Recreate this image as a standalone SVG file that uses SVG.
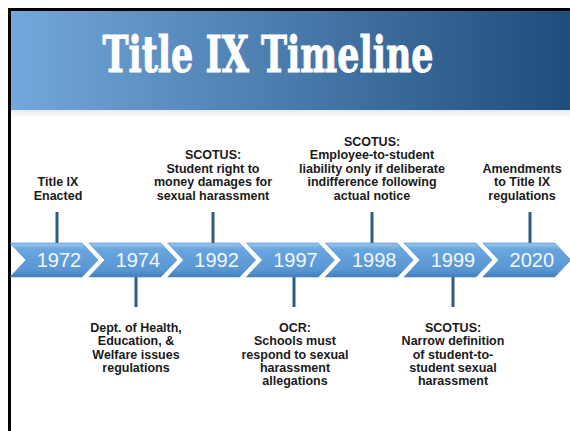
<svg xmlns="http://www.w3.org/2000/svg" width="570" height="431" viewBox="0 0 570 431">
  <defs>
    <linearGradient id="hdr" x1="0" y1="0" x2="1" y2="0">
      <stop offset="0" stop-color="#73A8DC"/>
      <stop offset="1" stop-color="#1F4D7B"/>
    </linearGradient>
    <linearGradient id="shadow" x1="0" y1="0" x2="0" y2="1">
      <stop offset="0" stop-color="#E6EAEE"/>
      <stop offset="1" stop-color="#FFFFFF"/>
    </linearGradient>
    <linearGradient id="chev" x1="0" y1="0" x2="0" y2="1">
      <stop offset="0" stop-color="#9CC8EE"/>
      <stop offset="0.18" stop-color="#6AA6DE"/>
      <stop offset="0.8" stop-color="#5896D3"/>
      <stop offset="1" stop-color="#3F7DBC"/>
    </linearGradient>
    <polygon id="chevShape" points="0,243 72,243 88,260 72,277 0,277 16,260"/>
  </defs>
  <style>
    .chev { fill: url(#chev); stroke: #4C88C4; stroke-width: 0.6; }
    .yr { font-family: "Liberation Sans", Arial, sans-serif; font-size: 20px; fill: #F2F7FC; text-anchor: middle; }
    .lbl { font-family: "Liberation Sans", Arial, sans-serif; font-size: 12.5px; font-weight: bold; fill: #1A1A1A; text-anchor: middle; }
    .conn { stroke: #2F5C85; stroke-width: 3; fill: none; }
  </style>

  <rect x="0" y="0" width="570" height="431" fill="#FFFFFF"/>

  <g id="header">
    <rect x="8" y="8" width="562" height="3" fill="#000000"/>
    <rect x="11" y="11" width="559" height="99" fill="url(#hdr)"/>
    <rect x="11" y="110" width="559" height="8" fill="url(#shadow)"/>
    <rect x="8" y="8" width="3" height="423" fill="#000000"/>
    <text x="268" y="72" font-family="'DejaVu Serif', 'Liberation Serif', serif" font-size="50" font-weight="bold" fill="#FFFFFF" stroke="#FFFFFF" stroke-width="1" text-anchor="middle" textLength="331" lengthAdjust="spacingAndGlyphs">Title IX Timeline</text>
  </g>

  <g id="connectors">
    <line class="conn" x1="57" y1="212" x2="57" y2="243"/>
    <line class="conn" x1="213" y1="212" x2="213" y2="243"/>
    <line class="conn" x1="372" y1="212" x2="372" y2="243"/>
    <line class="conn" x1="530" y1="212" x2="530" y2="243"/>
    <line class="conn" x1="136" y1="277" x2="136" y2="307"/>
    <line class="conn" x1="294" y1="277" x2="294" y2="307"/>
    <line class="conn" x1="453" y1="277" x2="453" y2="307"/>
  </g>

  <g id="y1972"><use href="#chevShape" class="chev" x="10"/><text class="yr" x="59" y="267">1972</text></g>
  <g id="y1974"><use href="#chevShape" class="chev" x="88.8"/><text class="yr" x="137.8" y="267">1974</text></g>
  <g id="y1992"><use href="#chevShape" class="chev" x="167.6"/><text class="yr" x="216.6" y="267">1992</text></g>
  <g id="y1997"><use href="#chevShape" class="chev" x="246.4"/><text class="yr" x="295.4" y="267">1997</text></g>
  <g id="y1998"><use href="#chevShape" class="chev" x="325.2"/><text class="yr" x="374.2" y="267">1998</text></g>
  <g id="y1999"><use href="#chevShape" class="chev" x="404"/><text class="yr" x="453" y="267">1999</text></g>
  <g id="y2020"><use href="#chevShape" class="chev" x="482.8"/><text class="yr" x="531.8" y="267">2020</text></g>

  <g id="label1972">
    <text class="lbl" x="58" y="186">Title IX</text>
    <text class="lbl" x="58" y="199.5">Enacted</text>
  </g>
  <g id="label1992">
    <text class="lbl" x="213" y="159">SCOTUS:</text>
    <text class="lbl" x="213" y="172.5">Student right to</text>
    <text class="lbl" x="213" y="186">money damages for</text>
    <text class="lbl" x="213" y="199.5">sexual harassment</text>
  </g>
  <g id="label1998">
    <text class="lbl" x="372" y="145.5">SCOTUS:</text>
    <text class="lbl" x="372" y="159">Employee-to-student</text>
    <text class="lbl" x="372" y="172.5">liability only if deliberate</text>
    <text class="lbl" x="372" y="186">indifference following</text>
    <text class="lbl" x="372" y="199.5">actual notice</text>
  </g>
  <g id="label2020">
    <text class="lbl" x="522" y="172.5">Amendments</text>
    <text class="lbl" x="522" y="186">to Title IX</text>
    <text class="lbl" x="522" y="199.5">regulations</text>
  </g>
  <g id="label1974">
    <text class="lbl" x="136" y="332">Dept. of Health,</text>
    <text class="lbl" x="136" y="345.3">Education, &amp;</text>
    <text class="lbl" x="136" y="358.6">Welfare issues</text>
    <text class="lbl" x="136" y="372">regulations</text>
  </g>
  <g id="label1997">
    <text class="lbl" x="295" y="332">OCR:</text>
    <text class="lbl" x="295" y="345.3">Schools must</text>
    <text class="lbl" x="295" y="358.6">respond to sexual</text>
    <text class="lbl" x="295" y="372">harassment</text>
    <text class="lbl" x="295" y="385.3">allegations</text>
  </g>
  <g id="label1999">
    <text class="lbl" x="453" y="332">SCOTUS:</text>
    <text class="lbl" x="453" y="345.3">Narrow definition</text>
    <text class="lbl" x="453" y="358.6">of student-to-</text>
    <text class="lbl" x="453" y="372">student sexual</text>
    <text class="lbl" x="453" y="385.3">harassment</text>
  </g>
</svg>
